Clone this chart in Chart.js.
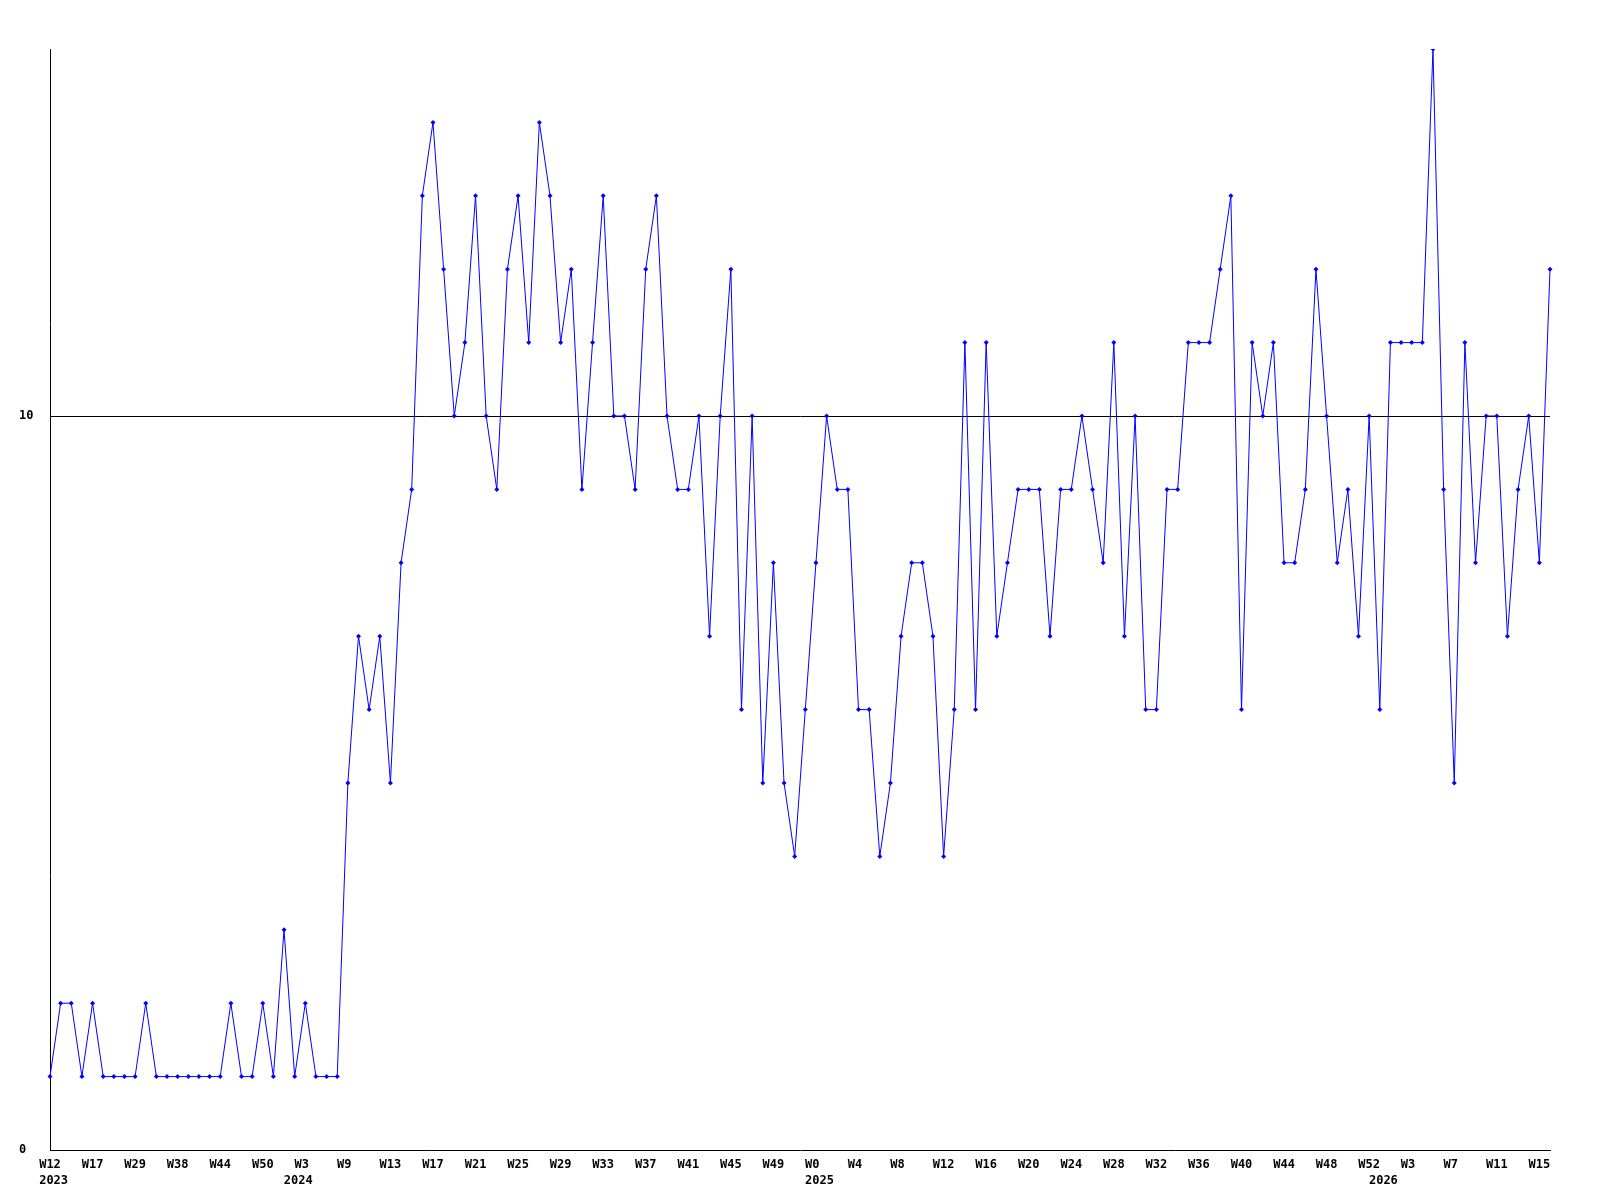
<!DOCTYPE html>
<html>
<head>
<meta charset="utf-8">
<script src="https://cdn.jsdelivr.net/npm/chart.js@4.4.1/dist/chart.umd.min.js"></script>
<style>
  body { margin: 0; background: #fff; }
</style>
</head>
<body>
<canvas id="myChart" width="1600" height="1200"></canvas>
<script>
// weekly values, 2023 W12 .. 2026 W16
const values = [
    1, 2, 2, 1, 2, 1, 1, 1, 1, 2,
    1, 1, 1, 1, 1, 1, 1, 2, 1, 1,
    2, 1, 3, 1, 2, 1, 1, 1, 5, 7,
    6, 7, 5, 8, 9, 13, 14, 12, 10, 11,
    13, 10, 9, 12, 13, 11, 14, 13, 11, 12,
    9, 11, 13, 10, 10, 9, 12, 13, 10, 9,
    9, 10, 7, 10, 12, 6, 10, 5, 8, 5,
    4, 6, 8, 10, 9, 9, 6, 6, 4, 5,
    7, 8, 8, 7, 4, 6, 11, 6, 11, 7,
    8, 9, 9, 9, 7, 9, 9, 10, 9, 8,
    11, 7, 10, 6, 6, 9, 9, 11, 11, 11,
    12, 13, 6, 11, 10, 11, 8, 8, 9, 12,
    10, 8, 9, 7, 10, 6, 11, 11, 11, 11,
    15, 9, 5, 11, 8, 10, 10, 7, 9, 10,
    8, 12
];

// week tick labels, one every 4 points
const weekTicks = [
    'W12', 'W17', 'W29', 'W38', 'W44', 'W50', 'W3', 'W9', 'W13', 'W17',
    'W21', 'W25', 'W29', 'W33', 'W37', 'W41', 'W45', 'W49', 'W0', 'W4',
    'W8', 'W12', 'W16', 'W20', 'W24', 'W28', 'W32', 'W36', 'W40', 'W44',
    'W48', 'W52', 'W3', 'W7', 'W11', 'W15'
];
const yearLabels = ['2023', '2024', '2025', '2026'];
const yearIndex = [0, 23, 72, 125];
const tickStep = 4;

// the original writes labels from a fixed start left of the tick,
// so pad to 3 chars (monospace) to keep that look
function pad(s) {
    if (s.length == 2) return s + ' ';
    if (s.length == 4) return ' ' + s;
    return s;
}

const labels = [];
for (let i = 0; i < values.length; i++) {
    let week = (i % tickStep == 0 && weekTicks[i / tickStep]) ? weekTicks[i / tickStep] : '';
    let y = yearIndex.indexOf(i);
    if (y != -1) {
        labels.push([pad(week), pad(yearLabels[y])]);
    } else {
        labels.push(pad(week));
    }
}

const tickFont = { family: "'DejaVu Sans Mono', monospace", size: 12, weight: 'bold', lineHeight: '16px' };

const ctx = document.getElementById('myChart').getContext('2d');
const myChart = new Chart(ctx, {
    type: 'line',
    data: {
        labels: labels,
        datasets: [
            {
                data: values,
                borderColor: "#0000ff",
                backgroundColor: "#0000ff",
                borderWidth: 1,
                tension: 0,
                pointStyle: 'rectRot',
                pointRadius: 2.5,
                pointBorderWidth: 0,
                pointBackgroundColor: "#0000ff"
            }
        ]
    },
    options: {
        responsive: false,
        animation: false,
        devicePixelRatio: 1,
        layout: {
            padding: { left: 19, top: 49, right: 50, bottom: 0 }
        },
        plugins: {
            legend: { display: false },
            tooltip: { enabled: false }
        },
        scales: {
            x: {
                type: 'category',
                offset: false,
                grid: {
                    display: true,
                    color: 'transparent',
                    drawTicks: false
                },
                border: { display: true, color: '#000', width: 1 },
                ticks: {
                    autoSkip: false,
                    maxRotation: 0,
                    minRotation: 0,
                    padding: 7,
                    color: '#000',
                    font: tickFont
                },
                afterFit: function (scale) {
                    scale.height = 50;
                }
            },
            y: {
                min: 0,
                max: 15,
                grid: {
                    drawTicks: false,
                    color: function (c) {
                        return (c.tick && c.tick.value == 10) ? '#000' : 'transparent';
                    }
                },
                border: { display: true, color: '#000', width: 1 },
                ticks: {
                    crossAlign: 'far',
                    padding: 4,
                    color: '#000',
                    font: tickFont
                },
                afterBuildTicks: function (scale) {
                    scale.ticks = [{ value: 0 }, { value: 10 }];
                },
                afterFit: function (scale) {
                    scale.width = 31;
                }
            }
        }
    }
});
</script>
</body>
</html>
